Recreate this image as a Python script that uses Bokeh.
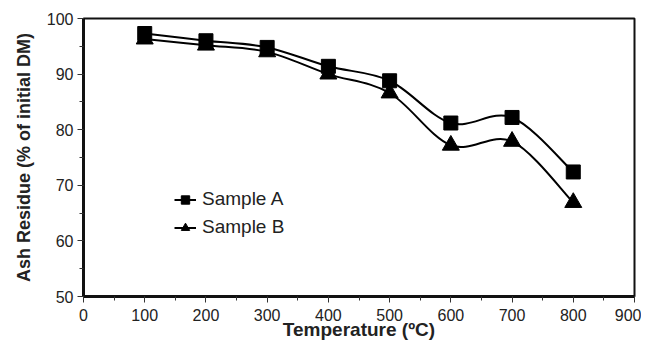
import numpy as np
from bokeh.plotting import figure
from bokeh.models import Range1d, Legend, LegendItem, SingleIntervalTicker, ColumnDataSource
from bokeh.embed import file_html
from bokeh.resources import INLINE

temperature = [100, 200, 300, 400, 500, 600, 700, 800]
sample_a = [97.3, 96.0, 94.8, 91.4, 88.8, 81.2, 82.2, 72.4]
sample_b = [96.3, 95.2, 94.0, 90.0, 86.6, 77.2, 77.9, 66.9]
series_names = ["Sample A", "Sample B"]

FONT = "Liberation Sans"

p = figure(width=641, height=349, output_backend="svg", toolbar_location=None,
           x_range=Range1d(0, 900), y_range=Range1d(50, 100),
           min_border_left=83, min_border_right=7, min_border_top=18, min_border_bottom=53)
p.background_fill_color = "white"
p.border_fill_color = "white"
p.outline_line_color = "#111111"
p.outline_line_width = 2
p.xgrid.visible = False
p.ygrid.visible = False

p.xaxis.ticker = SingleIntervalTicker(interval=100, num_minor_ticks=2)
p.yaxis.ticker = SingleIntervalTicker(interval=10, num_minor_ticks=2)
for ax in (p.xaxis, p.yaxis):
    ax.axis_line_width = 3
    ax.axis_line_color = "#111111"
    ax.major_tick_line_color = "#333333"
    ax.minor_tick_line_color = "#333333"
    ax.major_tick_in = 0
    ax.major_tick_out = 6
    ax.minor_tick_in = 0
    ax.minor_tick_out = 4
    ax.major_label_text_font = FONT
    ax.major_label_text_font_size = "16px"
    ax.major_label_text_color = "#222222"
    ax.axis_label_text_font = FONT
    ax.axis_label_text_font_style = "bold"
    ax.axis_label_text_color = "#222222"
p.xaxis.axis_label_text_font_size = "19px"
p.yaxis.axis_label_text_font_size = "18px"
p.xaxis.axis_label = "Temperature (ºC)"
p.yaxis.axis_label = "Ash Residue (% of initial DM)"
p.xaxis.major_label_standoff = 6
p.yaxis.major_label_standoff = 4
p.xaxis.axis_label_standoff = -5
p.yaxis.axis_label_standoff = 10


def smooth_segments(xs, ys):
    x = np.asarray(xs, float)
    y = np.asarray(ys, float)
    xp = np.concatenate([[x[0]], x, [x[-1]]])
    yp = np.concatenate([[y[0]], y, [y[-1]]])
    n = len(x)
    d = dict(x0=[], y0=[], x1=[], y1=[], cx0=[], cy0=[], cx1=[], cy1=[])
    for i in range(n - 1):
        j = i + 1
        d["x0"].append(xp[j]); d["y0"].append(yp[j])
        d["x1"].append(xp[j + 1]); d["y1"].append(yp[j + 1])
        d["cx0"].append(xp[j] + (xp[j + 1] - xp[j - 1]) / 6)
        d["cy0"].append(yp[j] + (yp[j + 1] - yp[j - 1]) / 6)
        d["cx1"].append(xp[j + 1] - (xp[j + 2] - xp[j]) / 6)
        d["cy1"].append(yp[j + 1] - (yp[j + 2] - yp[j]) / 6)
    return ColumnDataSource(d)


items = []
for name, vals, marker, size in [(series_names[0], sample_a, "square", 14),
                                 (series_names[1], sample_b, "triangle", 17)]:
    src = smooth_segments(temperature, vals)
    bz = p.bezier(x0="x0", y0="y0", x1="x1", y1="y1", cx0="cx0", cy0="cy0",
                  cx1="cx1", cy1="cy1", source=src, line_color="black", line_width=2)
    sc = p.scatter(temperature, vals, marker=marker, size=size,
                   fill_color="black", line_color="black")
    items.append(LegendItem(label=name, renderers=[bz, sc]))

legend = Legend(items=items, location=(91, 58), padding=0, margin=0, spacing=6,
                glyph_width=22, glyph_height=21, label_standoff=6,
                label_text_font=FONT, label_text_font_size="19px",
                label_text_color="#222222",
                border_line_color=None, background_fill_alpha=0)
p.add_layout(legend, "center")

open("out.html", "w").write(file_html(p, INLINE))
